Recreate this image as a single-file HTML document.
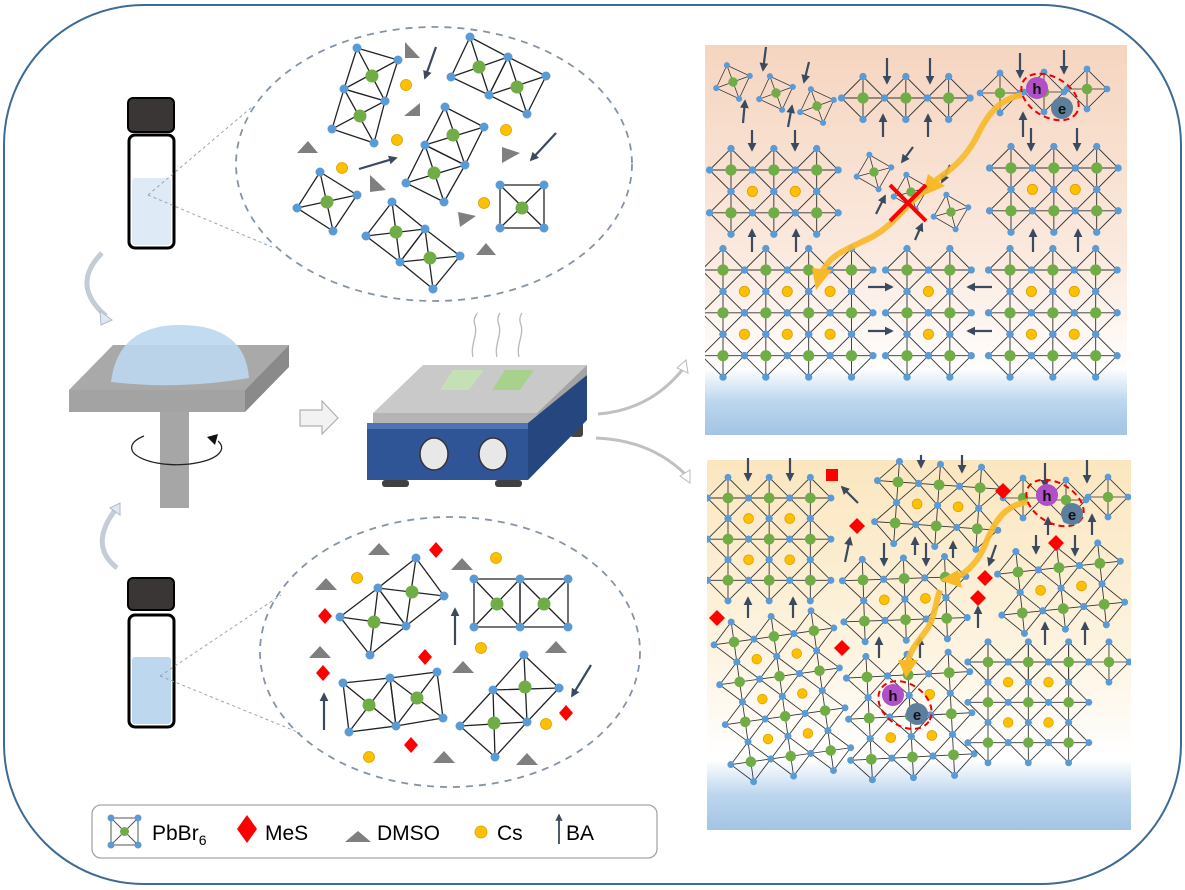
<!DOCTYPE html>
<html><head><meta charset="utf-8"><style>
html,body{margin:0;padding:0;background:#fff}
svg{display:block}
.q{fill:none;stroke:#222;stroke-width:1.3}
.l{fill:none;stroke:#333;stroke-width:0.9}
.b{fill:#5b9bd5}
.g{fill:#70ad47}
.y{fill:#ffc000;stroke:#d9a000;stroke-width:0.8}
.a{stroke:#3b4a5e;stroke-width:2.2;fill:none}
.t{fill:#7f7f7f}
.r{fill:#ff0000}
</style></head><body>
<svg width="1185" height="890" viewBox="0 0 1185 890" xmlns="http://www.w3.org/2000/svg" font-family="Liberation Sans, Arial, sans-serif">
<defs>
<marker id="ah" viewBox="0 0 10 10" refX="8" refY="5" markerWidth="4" markerHeight="4" orient="auto"><path d="M0,0 L10,5 L0,10 z" fill="#3b4a5e"/></marker>
<g id="o"><polygon class="l" points="-21,0 0,-21 21,0 0,21"/><path class="l" d="M-21,0H21M0,-21V21"/><circle class="b" cx="-21" cy="0" r="3.6"/><circle class="b" cx="21" cy="0" r="3.6"/><circle class="b" cx="0" cy="-21" r="3.6"/><circle class="b" cx="0" cy="21" r="3.6"/><circle class="g" cx="0" cy="0" r="5.5"/></g>
<g id="r2"><use href="#o"/><use href="#o" x="42"/></g>
<g id="r3"><use href="#r2"/><use href="#o" x="84"/></g>
<g id="r4"><use href="#r3"/><use href="#o" x="126"/></g>
<g id="y1"><circle class="y" cx="21" cy="21" r="5"/></g>
<g id="y2"><use href="#y1"/><use href="#y1" x="42"/></g>
<g id="y3"><use href="#y2"/><use href="#y1" x="84"/></g>
<g id="b32"><use href="#r3"/><use href="#r3" y="42"/><use href="#y2"/></g>
<g id="b33"><use href="#b32"/><use href="#r3" y="84"/><use href="#y2" y="42"/></g>
<g id="b34"><use href="#b33"/><use href="#r3" y="126"/><use href="#y2" y="84"/></g>
<g id="b23"><use href="#r2"/><use href="#r2" y="42"/><use href="#r2" y="84"/><use href="#y1"/><use href="#y1" y="42"/></g>
<g id="b43"><use href="#r4"/><use href="#r4" y="42"/><use href="#r4" y="84"/><use href="#y3"/><use href="#y3" y="42"/></g>
<linearGradient id="gt" x1="0" y1="0" x2="0" y2="1"><stop offset="0" stop-color="#f5d5c0"/><stop offset="0.55" stop-color="#fbeadf"/><stop offset="0.85" stop-color="#ffffff"/></linearGradient>
<linearGradient id="gb" x1="0" y1="0" x2="0" y2="1"><stop offset="0" stop-color="#fbe6bf"/><stop offset="0.5" stop-color="#fdf3df"/><stop offset="0.8" stop-color="#ffffff"/></linearGradient>
<linearGradient id="gblue" x1="0" y1="0" x2="0" y2="1"><stop offset="0" stop-color="#ffffff"/><stop offset="0.5" stop-color="#bcd6ee"/><stop offset="1" stop-color="#a3c4e4"/></linearGradient>
<clipPath id="c1"><rect x="705" y="45" width="422" height="390"/></clipPath>
<clipPath id="c2"><rect x="707" y="458" width="424" height="372"/></clipPath>
</defs>

<rect x="4" y="5" width="1177" height="879" rx="140" fill="#fff" stroke="#3e6b94" stroke-width="2"/>

<!-- top vial -->
<rect x="128" y="98" width="46" height="34" rx="5" fill="#3a3636" stroke="#000" stroke-width="2"/>
<rect x="129" y="135" width="45" height="113" rx="6" fill="#fff" stroke="#000" stroke-width="3"/>
<rect x="132" y="178" width="39" height="67" rx="3" fill="#deebf7"/>
<path d="M148,195 L252,107 M148,195 L272,247" stroke="#98a4b0" stroke-width="1" stroke-dasharray="3,3" fill="none"/>
<ellipse cx="434" cy="164" rx="198" ry="137" fill="none" stroke="#8494a8" stroke-width="1.8" stroke-dasharray="7,6"/>

<!-- top ellipse contents -->
<g>
<polygon class="q" points="357,48 398,60 385,101 344,89"/><path class="q" d="M357,48L385,101M398,60L344,89"/>
<polygon class="q" points="344,89 385,101 374,143 332,129"/><path class="q" d="M344,89L374,143M385,101L332,129"/>
<polygon class="q" points="470,37 508,57 489,95 451,77"/><path class="q" d="M470,37L489,95M508,57L451,77"/>
<polygon class="q" points="508,57 546,76 527,114 489,95"/><path class="q" d="M508,57L527,114M546,76L489,95"/>
<polygon class="q" points="445,107 484,127 465,165 425,145"/><path class="q" d="M445,107L465,165M484,127L425,145"/>
<polygon class="q" points="425,145 465,165 444,202 406,183"/><path class="q" d="M425,145L444,202M465,165L406,183"/>
<polygon class="q" points="320,172 357,195 333,231 297,208"/><path class="q" d="M320,172L333,231M357,195L297,208"/>
<polygon class="q" points="392,202 425,229 400,262 366,236"/><path class="q" d="M392,202L400,262M425,229L366,236"/>
<polygon class="q" points="425,229 460,256 433,289 400,262"/><path class="q" d="M425,229L433,289M460,256L400,262"/>
<polygon class="q" points="500,185 544,185 544,228 500,228"/><path class="q" d="M500,185L544,228M544,185L500,228"/>
<g class="b">
<circle cx="357" cy="48" r="4.5"/><circle cx="398" cy="60" r="4.5"/><circle cx="385" cy="101" r="4.5"/><circle cx="344" cy="89" r="4.5"/><circle cx="374" cy="143" r="4.5"/><circle cx="332" cy="129" r="4.5"/>
<circle cx="470" cy="37" r="4.5"/><circle cx="508" cy="57" r="4.5"/><circle cx="489" cy="95" r="4.5"/><circle cx="451" cy="77" r="4.5"/><circle cx="546" cy="76" r="4.5"/><circle cx="527" cy="114" r="4.5"/>
<circle cx="445" cy="107" r="4.5"/><circle cx="484" cy="127" r="4.5"/><circle cx="465" cy="165" r="4.5"/><circle cx="425" cy="145" r="4.5"/><circle cx="444" cy="202" r="4.5"/><circle cx="406" cy="183" r="4.5"/>
<circle cx="320" cy="172" r="4.5"/><circle cx="357" cy="195" r="4.5"/><circle cx="333" cy="231" r="4.5"/><circle cx="297" cy="208" r="4.5"/>
<circle cx="392" cy="202" r="4.5"/><circle cx="425" cy="229" r="4.5"/><circle cx="400" cy="262" r="4.5"/><circle cx="366" cy="236" r="4.5"/><circle cx="460" cy="256" r="4.5"/><circle cx="433" cy="289" r="4.5"/>
<circle cx="500" cy="185" r="4.5"/><circle cx="544" cy="185" r="4.5"/><circle cx="544" cy="228" r="4.5"/><circle cx="500" cy="228" r="4.5"/>
</g>
<g class="g">
<circle cx="372" cy="76" r="6.5"/><circle cx="360" cy="116" r="6.5"/><circle cx="479" cy="67" r="6.5"/><circle cx="517" cy="87" r="6.5"/><circle cx="453" cy="135" r="6.5"/><circle cx="434" cy="173" r="6.5"/><circle cx="327" cy="202" r="6.5"/><circle cx="396" cy="232" r="6.5"/><circle cx="430" cy="258" r="6.5"/><circle cx="522" cy="208" r="6.5"/>
</g>
<g class="y"><circle cx="406" cy="85" r="5.5"/><circle cx="397" cy="140" r="5.5"/><circle cx="342" cy="168" r="5.5"/><circle cx="506" cy="130" r="5.5"/><circle cx="484" cy="203" r="5.5"/></g>
<g class="t">
<polygon points="297,153 318,153 308,141"/><polygon points="405,42 405,58 420,58"/><polygon points="404,116 420,116 420,103"/><polygon points="370,175 370,192 386,190"/><polygon points="502,147 502,163 520,153"/><polygon points="458,212 460,227 476,216"/><polygon points="476,255 496,255 486,243"/>
</g>
<path class="a" marker-end="url(#ah)" d="M436,47 L425,78"/>
<path class="a" marker-end="url(#ah)" d="M359,169 L396,158"/>
<path class="a" marker-end="url(#ah)" d="M556,133 L531,160"/>
</g>

<!-- curved arrows near vials -->
<path d="M102,253 Q70,285 106,316" fill="none" stroke="#c4ccd6" stroke-width="5"/>
<polygon points="100,311 112,320 101,325" fill="#dfe8f2" stroke="#b0bac6"/>
<path d="M117,568 Q88,545 116,509" fill="none" stroke="#c4ccd6" stroke-width="5"/>
<polygon points="110,508 120,503 120,515" fill="#dfe8f2" stroke="#b0bac6"/>

<!-- spin coater -->
<polygon points="113,345 289,345 245,390 69,390" fill="#a9a9a9"/>
<rect x="69" y="390" width="176" height="22" fill="#a3a3a3"/>
<polygon points="245,390 289,345 289,367 245,412" fill="#8a8a8a"/>
<path d="M111,382 Q118,325 180,325 Q245,325 249,378 Q180,390 111,382 z" fill="#bdd7ee" opacity="0.9"/>
<rect x="160" y="412" width="29" height="96" fill="#a6a6a6"/>
<path d="M144,436 A45,17 0 1 0 218,441" fill="none" stroke="#222" stroke-width="1.3"/>
<polygon points="207,437 218,434 215,445" fill="#111"/>

<!-- hollow arrow -->
<polygon points="300,410 322,410 322,401 338,418 322,434 322,426 300,426" fill="#f2f2f2" stroke="#b0b0b0" stroke-width="1.2"/>

<!-- hotplate -->
<path d="M473,357 C470,345 478,335 475,325 C472,318 478,313 477,313 M497,357 C494,345 502,335 499,325 C496,318 500,313 500,313 M519,357 C516,345 524,335 521,325 C518,318 522,313 522,313" fill="none" stroke="#b8b8b8" stroke-width="1.3"/>
<rect x="570" y="420" width="13" height="17" rx="3" fill="#444"/>
<polygon points="423,365 587,365 537,413 373,413" fill="#c9c9c9"/>
<rect x="373" y="413" width="164" height="10" fill="#b4b4b4"/>
<polygon points="537,413 587,365 587,375 537,423" fill="#a4a4a4"/>
<polygon points="453,370 484,370 469,390 440,390" fill="#c5e0b4"/>
<polygon points="505,370 534,370 520,390 492,390" fill="#a9d18e"/>
<rect x="367" y="423" width="161" height="57" fill="#2f5597"/>
<rect x="367" y="423" width="161" height="6" fill="#4f74b4"/>
<polygon points="528,423 587,375 587,420 528,480" fill="#264680"/>
<ellipse cx="434" cy="454" rx="14" ry="16" fill="#e8e8e8" stroke="#333" stroke-width="1.5"/>
<ellipse cx="493" cy="454" rx="14" ry="16" fill="#e8e8e8" stroke="#333" stroke-width="1.5"/>
<rect x="382" y="480" width="27" height="7" rx="3" fill="#404040"/>
<rect x="495" y="480" width="27" height="7" rx="3" fill="#404040"/>

<!-- curves to panels -->
<path d="M598,414 Q650,410 683,369" fill="none" stroke="#c0c0c0" stroke-width="3"/>
<polygon points="677,368 686,360 688,373" fill="#fff" stroke="#bbb"/>
<path d="M596,438 Q650,440 685,474" fill="none" stroke="#c0c0c0" stroke-width="3"/>
<polygon points="680,476 690,470 690,483" fill="#fff" stroke="#bbb"/>

<!-- bottom vial -->
<rect x="128" y="578" width="46" height="32" rx="5" fill="#3a3636" stroke="#000" stroke-width="2"/>
<rect x="129" y="615" width="45" height="112" rx="6" fill="#fff" stroke="#000" stroke-width="3"/>
<rect x="132" y="657" width="39" height="67" rx="3" fill="#bdd7ee"/>
<path d="M160,676 L281,595 M160,676 L300,733" stroke="#98a4b0" stroke-width="1" stroke-dasharray="3,3" fill="none"/>
<ellipse cx="450" cy="652" rx="190" ry="135" fill="none" stroke="#8494a8" stroke-width="1.8" stroke-dasharray="7,6"/>

<!-- bottom ellipse contents -->
<g>
<polygon class="q" points="416,558 444,596 406,626 378,588"/><path class="q" d="M416,558L406,626M444,596L378,588"/>
<polygon class="q" points="378,588 406,626 370,655 340,617"/><path class="q" d="M378,588L370,655M406,626L340,617"/>
<polygon class="q" points="474,579 520,579 520,627 474,627"/><path class="q" d="M474,579L520,627M520,579L474,627"/>
<polygon class="q" points="520,579 568,579 568,627 520,627"/><path class="q" d="M520,579L568,627M568,579L520,627"/>
<polygon class="q" points="343,683 390,678 396,726 349,732"/><path class="q" d="M343,683L396,726M390,678L349,732"/>
<polygon class="q" points="390,678 437,672 443,718 396,726"/><path class="q" d="M390,678L443,718M437,672L396,726"/>
<polygon class="q" points="524,655 559,688 527,722 493,690"/><path class="q" d="M524,655L527,722M559,688L493,690"/>
<polygon class="q" points="493,690 527,722 495,757 460,726"/><path class="q" d="M493,690L495,757M527,722L460,726"/>
<g class="b">
<circle cx="416" cy="558" r="4.5"/><circle cx="444" cy="596" r="4.5"/><circle cx="406" cy="626" r="4.5"/><circle cx="378" cy="588" r="4.5"/><circle cx="370" cy="655" r="4.5"/><circle cx="340" cy="617" r="4.5"/>
<circle cx="474" cy="579" r="4.5"/><circle cx="520" cy="579" r="4.5"/><circle cx="568" cy="579" r="4.5"/><circle cx="474" cy="627" r="4.5"/><circle cx="520" cy="627" r="4.5"/><circle cx="568" cy="627" r="4.5"/>
<circle cx="343" cy="683" r="4.5"/><circle cx="390" cy="678" r="4.5"/><circle cx="437" cy="672" r="4.5"/><circle cx="349" cy="732" r="4.5"/><circle cx="396" cy="726" r="4.5"/><circle cx="443" cy="718" r="4.5"/>
<circle cx="524" cy="655" r="4.5"/><circle cx="559" cy="688" r="4.5"/><circle cx="527" cy="722" r="4.5"/><circle cx="493" cy="690" r="4.5"/><circle cx="495" cy="757" r="4.5"/><circle cx="460" cy="726" r="4.5"/>
</g>
<g class="g">
<circle cx="412" cy="592" r="6.5"/><circle cx="374" cy="622" r="6.5"/><circle cx="497" cy="604" r="6.5"/><circle cx="544" cy="604" r="6.5"/><circle cx="369" cy="705" r="6.5"/><circle cx="417" cy="698" r="6.5"/><circle cx="525" cy="687" r="6.5"/><circle cx="494" cy="723" r="6.5"/>
</g>
<g class="r">
<polygon points="436,542 443,550 436,558 429,550"/><polygon points="325,608 332,616 325,624 318,616"/><polygon points="425,649 432,657 425,665 418,657"/><polygon points="323,665 330,673 323,681 316,673"/><polygon points="411,737 418,745 411,753 404,745"/><polygon points="566,705 573,713 566,721 559,713"/>
</g>
<g class="y"><circle cx="357" cy="578" r="5.5"/><circle cx="496" cy="558" r="5.5"/><circle cx="481" cy="648" r="5.5"/><circle cx="546" cy="724" r="5.5"/><circle cx="369" cy="757" r="5.5"/></g>
<g class="t">
<polygon points="368,555 390,555 379,543"/><polygon points="315,590 337,590 326,578"/><polygon points="451,570 473,570 462,558"/><polygon points="309,658 331,658 320,646"/><polygon points="452,673 474,673 463,661"/><polygon points="545,653 567,653 556,641"/><polygon points="433,763 455,763 444,751"/><polygon points="516,765 538,765 527,753"/>
</g>
<path class="a" marker-end="url(#ah)" d="M455,645 L455,609"/>
<path class="a" marker-end="url(#ah)" d="M324,730 L324,694"/>
<path class="a" marker-end="url(#ah)" d="M591,665 L572,696"/>
</g>

<!-- TOP RIGHT PANEL -->
<rect x="705" y="45" width="422" height="390" fill="url(#gt)"/>
<rect x="705" y="368" width="422" height="67" fill="url(#gblue)"/>
<g clip-path="url(#c1)">
<use href="#b43" transform="translate(723,270) scale(1.02)"/>
<use href="#b23" transform="translate(907,270) scale(1.02)"/>
<use href="#b33" transform="translate(1010,270) scale(1.02)"/>
<use href="#b32" transform="translate(731,170) scale(1.02)"/>
<use href="#b32" transform="translate(1011,168) scale(1.02)"/>
<use href="#r3" transform="translate(863,98) scale(1.02)"/>
<use href="#o" transform="translate(733,82) rotate(-20) scale(0.85)"/>
<use href="#o" transform="translate(776,93) rotate(-20) scale(0.85)"/>
<use href="#o" transform="translate(817,106) rotate(-20) scale(0.85)"/>
<use href="#o" transform="translate(874,172) rotate(-15) scale(0.85)"/>
<use href="#o" transform="translate(911,192) rotate(-15) scale(0.85)"/>
<use href="#o" transform="translate(951,212) rotate(-15) scale(0.85)"/>
<use href="#o" transform="translate(1000,93) scale(0.95)"/>
<use href="#o" transform="translate(1044,92) scale(0.95)"/>
<use href="#o" transform="translate(1087,89) scale(0.95)"/>
</g>
<g marker-end="url(#ah)">
<path class="a" d="M766,47 L763,70"/><path class="a" d="M809,62 L804,82"/><path class="a" d="M887,58 L887,83"/><path class="a" d="M930,58 L930,83"/><path class="a" d="M1020,53 L1020,77"/><path class="a" d="M1064,50 L1064,73"/>
<path class="a" d="M752,130 L752,150"/><path class="a" d="M795,130 L795,150"/><path class="a" d="M1031,128 L1031,150"/><path class="a" d="M1077,128 L1077,150"/>
<path class="a" d="M743,123 L745,101"/><path class="a" d="M788,127 L792,106"/><path class="a" d="M883,137 L883,115"/><path class="a" d="M928,137 L928,115"/><path class="a" d="M1023,137 L1023,113"/>
<path class="a" d="M752,252 L752,230"/><path class="a" d="M796,252 L796,230"/><path class="a" d="M1033,252 L1033,230"/><path class="a" d="M1078,252 L1078,230"/>
<path class="a" d="M913,147 L902,162"/><path class="a" d="M876,214 L885,196"/><path class="a" d="M915,240 L922,224"/><path class="a" d="M950,165 L942,182"/>
<path class="a" d="M868,287 L892,287"/><path class="a" d="M868,331 L892,331"/><path class="a" d="M992,287 L968,287"/><path class="a" d="M992,331 L968,331"/>
</g>
<!-- yellow path top -->
<path d="M1022,95 C995,100 985,120 975,140 C962,162 950,170 936,180 M925,190 C905,205 895,225 870,238 C845,250 830,255 822,272" fill="none" stroke="#f7b928" stroke-width="6" opacity="0.9"/>
<polygon points="928,174 945,186 922,196" fill="#f7b928"/>
<polygon points="812,268 832,270 816,290" fill="#f7b928"/>
<path d="M890,185 L926,221 M926,185 L890,221" stroke="#ff0000" stroke-width="4"/>
<ellipse cx="1050" cy="97" rx="31" ry="20" transform="rotate(30 1050 97)" fill="none" stroke="#e00" stroke-width="2" stroke-dasharray="6,4"/>
<circle cx="1037" cy="88" r="11" fill="#b04fc8"/><text x="1037" y="94" font-size="15" font-weight="bold" text-anchor="middle" fill="#111">h</text>
<circle cx="1062" cy="108" r="11" fill="#5d7f9e"/><text x="1062" y="114" font-size="15" font-weight="bold" text-anchor="middle" fill="#111">e</text>

<!-- BOTTOM RIGHT PANEL -->
<rect x="707" y="460" width="424" height="370" fill="url(#gb)"/>
<rect x="707" y="760" width="424" height="70" fill="url(#gblue)"/>
<g clip-path="url(#c2)">
<use href="#b33" transform="translate(728,498) scale(0.98)"/>
<use href="#b32" transform="translate(898,482) rotate(4) scale(0.98)"/>
<use href="#o" transform="translate(1023,498) scale(0.95)"/>
<use href="#o" transform="translate(1066,500) scale(0.95)"/>
<use href="#o" transform="translate(1108,497) scale(0.95)"/>
<use href="#b32" transform="translate(863,580) rotate(-2) scale(0.98)"/>
<use href="#b32" transform="translate(1018,572) rotate(-6) scale(0.98)"/>
<use href="#b34" transform="translate(734,642) rotate(-8) scale(0.96)"/>
<use href="#b33" transform="translate(867,677) rotate(-3) scale(0.98)"/>
<use href="#b33" transform="translate(988,662) scale(0.96)"/>
<use href="#r4" transform="translate(988,662) scale(0.96)"/>
</g>
<g class="r">
<polygon points="826,469 838,469 838,481 826,481"/><polygon points="857,518 865,526 857,534 849,526"/><polygon points="1003,483 1011,491 1003,499 995,491"/><polygon points="1056,535 1064,543 1056,551 1048,543"/><polygon points="985,570 993,578 985,586 977,578"/><polygon points="978,590 986,598 978,606 970,598"/><polygon points="717,610 725,618 717,626 709,618"/><polygon points="842,640 850,648 842,656 834,648"/>
</g>
<g marker-end="url(#ah)">
<path class="a" d="M748,458 L748,480"/><path class="a" d="M790,458 L790,480"/><path class="a" d="M921,455 L921,467"/><path class="a" d="M962,455 L962,472"/><path class="a" d="M1045,463 L1045,487"/><path class="a" d="M1087,460 L1087,482"/>
<path class="a" d="M1036,535 L1036,553"/><path class="a" d="M1075,535 L1075,555"/><path class="a" d="M884,543 L884,565"/><path class="a" d="M926,543 L926,565"/><path class="a" d="M996,545 L989,565"/>
<path class="a" d="M748,618 L748,598"/><path class="a" d="M793,618 L793,598"/><path class="a" d="M845,562 L850,538"/><path class="a" d="M915,555 L915,538"/><path class="a" d="M953,558 L953,542"/><path class="a" d="M879,658 L879,638"/><path class="a" d="M920,658 L920,638"/><path class="a" d="M978,628 L978,607"/><path class="a" d="M1045,645 L1045,623"/><path class="a" d="M1085,645 L1085,623"/><path class="a" d="M1048,535 L1048,518"/><path class="a" d="M1092,535 L1092,515"/><path class="a" d="M858,503 L842,487"/>
</g>
<path d="M1028,502 C1005,505 995,520 985,545 C978,562 968,572 955,578 M940,590 C935,605 935,615 928,628 C918,642 910,650 908,662" fill="none" stroke="#f7b928" stroke-width="6" opacity="0.9"/>
<polygon points="958,570 962,588 940,580" fill="#f7b928"/>
<polygon points="898,660 918,660 906,678" fill="#f7b928"/>
<ellipse cx="1055" cy="503" rx="31" ry="20" transform="rotate(30 1055 503)" fill="none" stroke="#e00" stroke-width="2" stroke-dasharray="6,4"/>
<circle cx="1047" cy="495" r="11" fill="#b04fc8"/><text x="1047" y="501" font-size="15" font-weight="bold" text-anchor="middle" fill="#111">h</text>
<circle cx="1072" cy="514" r="11" fill="#5d7f9e"/><text x="1072" y="520" font-size="15" font-weight="bold" text-anchor="middle" fill="#111">e</text>
<ellipse cx="905" cy="705" rx="29" ry="21" transform="rotate(35 905 705)" fill="none" stroke="#e00" stroke-width="2" stroke-dasharray="6,4"/>
<circle cx="893" cy="695" r="11" fill="#b04fc8"/><text x="893" y="701" font-size="15" font-weight="bold" text-anchor="middle" fill="#111">h</text>
<circle cx="917" cy="714" r="11" fill="#5d7f9e"/><text x="917" y="720" font-size="15" font-weight="bold" text-anchor="middle" fill="#111">e</text>

<!-- legend -->
<rect x="92" y="805" width="565" height="53" rx="9" fill="#fff" stroke="#a6a6a6" stroke-width="1.3"/>
<rect x="111" y="818" width="27" height="27" class="q" style="stroke:#555;stroke-width:1"/>
<path d="M111,818L138,845M138,818L111,845" class="q" style="stroke:#555;stroke-width:1"/>
<circle class="b" cx="111" cy="818" r="3.5"/><circle class="b" cx="138" cy="818" r="3.5"/><circle class="b" cx="111" cy="845" r="3.5"/><circle class="b" cx="138" cy="845" r="3.5"/>
<circle class="g" cx="124.5" cy="831.5" r="4.5"/>
<text x="152" y="840" font-size="21" fill="#000">PbBr<tspan font-size="14" dy="5">6</tspan></text>
<polygon points="247,815 257,829 247,843 237,829" fill="#ff0000"/>
<text x="265" y="840" font-size="21" fill="#000">MeS</text>
<polygon points="345,842 371,842 358,831" fill="#7f7f7f"/>
<text x="377" y="840" font-size="21" fill="#000">DMSO</text>
<circle cx="481" cy="832" r="6" class="y"/>
<text x="497" y="840" font-size="21" fill="#000">Cs</text>
<path class="a" marker-end="url(#ah)" d="M559,844 L559,815" style="stroke-width:1.8"/>
<text x="566" y="840" font-size="21" fill="#000">BA</text>
</svg>
</body></html>
